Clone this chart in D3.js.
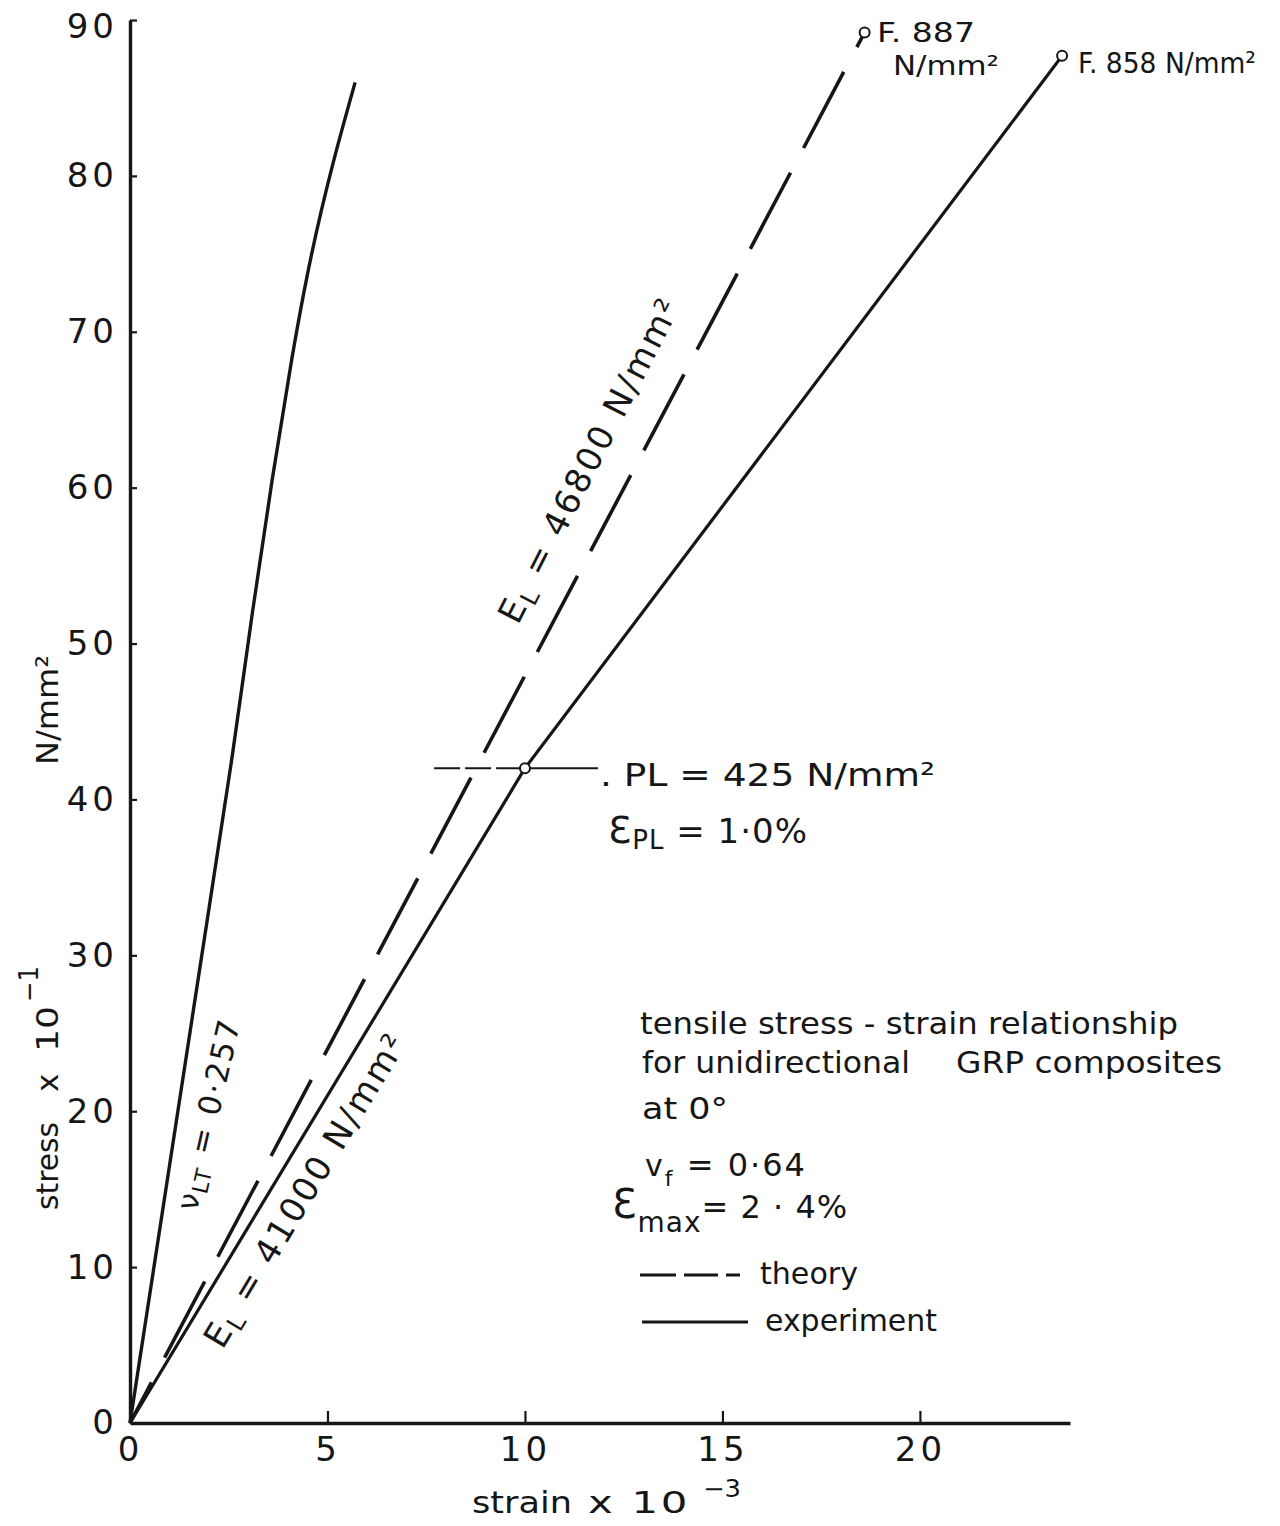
<!DOCTYPE html>
<html><head><meta charset="utf-8">
<script src="https://cdn.jsdelivr.net/npm/d3@7"></script>
<style>
body{margin:0;background:#fff;}
svg text{font-family:"DejaVu Sans",sans-serif;fill:#161616;}
</style></head><body>
<svg id="chart" width="1280" height="1526"></svg>
<script>
// ---- data ----
const strainTicks = [0, 5, 10, 15, 20];
const stressTicks = [0, 10, 20, 30, 40, 50, 60, 70, 80, 90];
// theory (dashed), E_L = 46800 N/mm2, failure 887 N/mm2
const theoryStrain = [0, 18.6];
const theoryStress = [0, 89.2];
// experiment (solid), E_L = 41000 N/mm2, PL then failure 858 N/mm2
const expStrain = [0, 10, 23.6];
const expStress = [0, 42, 87.7];
// transverse strain curve (nu_LT = 0.257)
const transStrain = [0, 1.0, 2.0, 2.6, 3.1, 3.6, 4.1, 4.6, 5.15, 5.7];
const transStress = [0, 16.5, 33.0, 43.0, 52.0, 60.5, 68.3, 75.0, 80.9, 86.0];
// proportional limit
const plStrain = 10, plStress = 42;
const plLineFrom = 7.7, plLineTo = 11.85;

const svg = d3.select('#chart');
const x = d3.scaleLinear().domain([0, 23.8]).range([130, 1070]);
const y = d3.scaleLinear().domain([0, 90]).range([1423, 20]);
const ink = '#161616';

// axes
const gx = svg.append('g').attr('transform', `translate(0,${y(0)})`)
  .call(d3.axisBottom(x).tickValues(strainTicks).tickSizeInner(-12).tickSizeOuter(0).tickPadding(14));
const gy = svg.append('g').attr('transform', `translate(${x(0)},0)`)
  .call(d3.axisLeft(y).tickValues(stressTicks).tickSizeInner(-7).tickSizeOuter(0).tickPadding(12));
[gx, gy].forEach(g => {
  g.attr('font-family', null).attr('font-size', null);
  g.select('.domain').attr('stroke', ink).attr('stroke-width', 3.4);
  g.selectAll('.tick line').attr('stroke', ink).attr('stroke-width', 2.2);
  g.selectAll('.tick text').attr('fill', ink).style('font-size', '34px').style('letter-spacing', '4px');
});
gx.selectAll('.tick').filter(d => d === 0).select('line').remove();
gy.selectAll('.tick').filter(d => d === 0).select('line').remove();
gy.selectAll('.tick').filter(d => d === 90).select('text').attr('dy', '0.5em');

const zip = (a, b) => a.map((v, i) => [v, b[i]]);

// transverse curve
svg.append('path').datum(zip(transStrain, transStress))
  .attr('d', d3.line().x(d => x(d[0])).y(d => y(d[1])).curve(d3.curveNatural))
  .attr('fill', 'none').attr('stroke', ink).attr('stroke-width', 3.4);
const line = d3.line().x(d => x(d[0])).y(d => y(d[1]));
// experiment
svg.append('path').datum(zip(expStrain, expStress)).attr('d', line)
  .attr('fill', 'none').attr('stroke', ink).attr('stroke-width', 3.2);
// theory
svg.append('path').datum(zip(theoryStrain, theoryStress)).attr('d', line)
  .attr('fill', 'none').attr('stroke', ink).attr('stroke-width', 3.6)
  .attr('stroke-dasharray', '86,28').attr('stroke-dashoffset', 40);

// PL horizontal marker
svg.append('line').attr('x1', x(plLineFrom)).attr('x2', x(plStrain))
  .attr('y1', y(plStress)).attr('y2', y(plStress))
  .attr('stroke', ink).attr('stroke-width', 2).attr('stroke-dasharray', '26,5');
svg.append('line').attr('x1', x(plStrain)).attr('x2', x(plLineTo))
  .attr('y1', y(plStress)).attr('y2', y(plStress))
  .attr('stroke', ink).attr('stroke-width', 2);

// circles
const pts = [[theoryStrain[1], theoryStress[1]], [expStrain[2], expStress[2]], [plStrain, plStress]];
svg.selectAll('circle.pt').data(pts).join('circle').attr('class', 'pt')
  .attr('cx', d => x(d[0])).attr('cy', d => y(d[1])).attr('r', 5)
  .attr('fill', '#fff').attr('stroke', ink).attr('stroke-width', 2);

// text helper: parts = [[text, size, dy]]
function txt(g, xx, yy, parts, opts = {}) {
  const t = g.append('text').attr('x', xx).attr('y', yy);
  if (opts.anchor) t.attr('text-anchor', opts.anchor);
  if (opts.ls) t.style('letter-spacing', opts.ls);
  if (opts.len) t.attr('textLength', opts.len).attr('lengthAdjust', 'spacingAndGlyphs');
  parts.forEach(p => {
    const s = t.append('tspan').text(p[0]).style('font-size', p[1] + 'px');
    if (p[2]) s.attr('dy', p[2]);
  });
  return t;
}

// failure labels
txt(svg, 877, 42, [['F. 887', 27]], { len: 98 });
txt(svg, 893, 75, [['N/mm²', 27]], { len: 106 });
txt(svg, 1078, 73, [['F. 858 N/mm²', 29]], { len: 178 });

// PL labels
txt(svg, 600, 786, [['. PL  = 425 N/mm²', 32]], { len: 335 });
txt(svg, 608, 843, [['Ɛ', 38], ['PL', 26, 6], [' = 1·0%', 34, -6]], { ls: '1px' });

// rotated labels along lines
function rot(cx, cy, ang, parts, ls) {
  const g = svg.append('g').attr('transform', `translate(${cx},${cy}) rotate(${ang})`);
  txt(g, 0, 11, parts, { anchor: 'middle', ls });
}
rot(208, 1114, -77, [['ν', 30], ['LT', 22, 6], [' = 0·257', 31, -6]], '2px');
rot(306, 1190, -59, [['E', 34], ['L', 24, 6], [' = 41000 N/mm²', 34, -6]], '2.5px');
rot(590, 460, -63, [['E', 34], ['L', 24, 6], [' = 46800 N/mm²', 34, -6]], '2.5px');

// axis titles
txt(svg, 472, 1513, [['strain', 31]], { len: 100 });
txt(svg, 588, 1513, [['x  10', 31]], { len: 102, ls: '2px' });
txt(svg, 703, 1497, [['−3', 24]], { len: 38 });
const yt = svg.append('g').attr('transform', 'translate(58,0) rotate(-90)');
txt(yt, -1210, 0, [['stress', 31]], { len: 88 });
txt(yt, -1092, 0, [['x', 31]]);
txt(yt, -1052, 0, [['10', 31]], { len: 46 });
txt(yt, -1002, -20, [['−1', 26]], { len: 36 });
txt(yt, -765, 0, [['N/mm²', 31]], { len: 110 });

// legend / description block
txt(svg, 640, 1034, [['tensile stress - strain relationship', 30]], { len: 538 });
txt(svg, 642, 1073, [['for unidirectional', 30]], { len: 268 });
txt(svg, 956, 1073, [['GRP composites', 30]], { len: 266 });
txt(svg, 642, 1119, [['at  0°', 30]], { len: 86 });
txt(svg, 645, 1176, [['v', 30], ['f', 22, 10], [' = 0·64', 32, -10]], { ls: '2px' });
txt(svg, 612, 1218, [['Ɛ', 40], ['max', 28, 14], ['= 2 · 4%', 32, -14]], { ls: '1px' });
const legend = [
  { label: 'theory', y: 1275, segs: [[640, 676], [684, 718], [726, 740]], ty: 1284, tx: 760, len: 98 },
  { label: 'experiment', y: 1322, segs: [[642, 748]], ty: 1331, tx: 765, len: 172 }
];
legend.forEach(l => {
  l.segs.forEach(s => svg.append('line').attr('x1', s[0]).attr('x2', s[1])
    .attr('y1', l.y).attr('y2', l.y).attr('stroke', ink).attr('stroke-width', 3));
  txt(svg, l.tx, l.ty, [[l.label, 30]], { len: l.len });
});
</script>
</body></html>
